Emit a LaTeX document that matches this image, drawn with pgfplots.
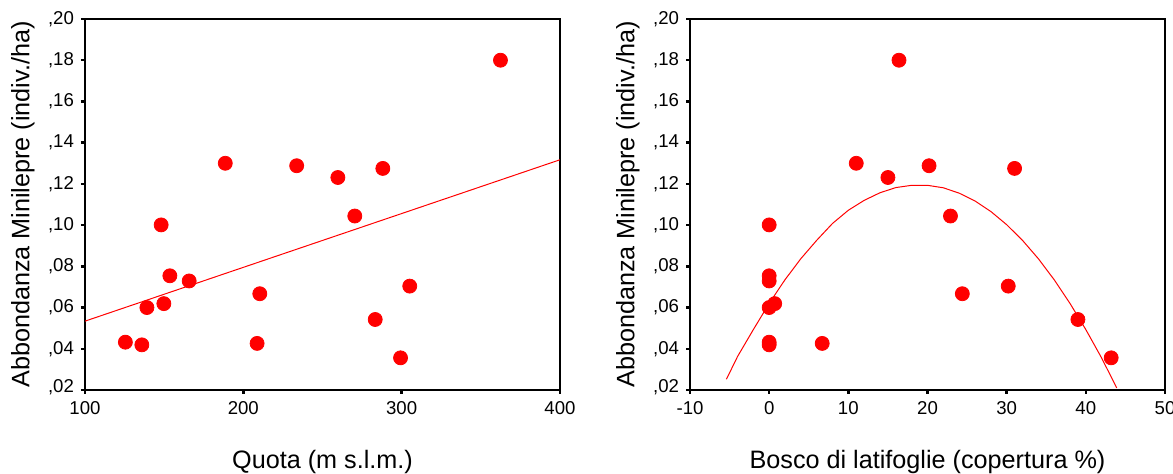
\documentclass[border=0pt]{standalone}
\usepackage{fontspec}
\setmainfont{Liberation Sans}
\usepackage{pgfplots}
\pgfplotsset{compat=1.18}

\definecolor{spssred}{RGB}{255,0,0}

\pgfplotsset{minilepre/.style={
    scale only axis, width=237.5pt, height=185.5pt,
    anchor=south west,
    ymin=0.02, ymax=0.20,
    ytick={0.02,0.04,0.06,0.08,0.10,0.12,0.14,0.16,0.18,0.20},
    yticklabels={\raisebox{4pt}{,02},{,04},{,06},{,08},{,10},{,12},{,14},{,16},{,18},{,20}},
    tick pos=left, tick align=outside, major tick length=2pt,
    every tick/.style={black, line width=1.2pt},
    axis line style={line width=0.8pt},
    /pgf/number format/assume math mode=true,
    tick label style={font=\fontsize{9.3}{11}\selectfont},
    label style={font=\fontsize{12.6}{15}\selectfont},
    ylabel={Abbondanza Minilepre (indiv./ha)},
    ylabel style={at={(axis description cs:-0.131,0.5)}, anchor=center},
    xlabel style={at={(axis description cs:0.5,-0.194)}, anchor=center},
    clip=true,
}}

\begin{document}
\begin{tikzpicture}
\useasboundingbox (0,0) rectangle (586.5pt,237pt);

% Quota
\begin{axis}[minilepre, at={(42.5pt,42pt)},
    xmin=100, xmax=400, xtick={100,200,300,400},
    xlabel={Quota (m s.l.m.)}]
\addplot[spssred, line width=0.5pt, no marks] coordinates {(100,0.0534) (400,0.1317)};
\addplot[only marks, mark=*, mark size=3.5pt, mark options={draw=spssred, fill=spssred}] coordinates {
  (362.4,0.180) (188.6,0.130) (233.7,0.1288) (259.7,0.1231) (288.1,0.1275)
  (270.4,0.1044) (148.1,0.1001) (153.6,0.0754) (165.8,0.0729) (139.1,0.0600)
  (149.8,0.0619) (210.4,0.0667) (305.1,0.0704) (283.3,0.0542) (125.5,0.0432)
  (135.9,0.0419) (208.7,0.0426) (299.3,0.0356)
};
\end{axis}

% Bosco di latifoglie
\begin{axis}[minilepre, at={(345pt,42pt)},
    xmin=-10, xmax=50, xtick={-10,0,10,20,30,40,50},
    xlabel={Bosco di latifoglie (copertura \%)}]
\addplot[spssred, line width=0.5pt, no marks] coordinates {
  (-5.4,0.0252) (-4,0.0362) (-2,0.0493) (0,0.0620) (2,0.0735) (4,0.0837)
  (6,0.0926) (8,0.1008) (10,0.1072) (12,0.1120) (14,0.1157) (16,0.1182)
  (18,0.1193) (20,0.1193) (22,0.1181) (24,0.1155) (26,0.1117) (28,0.1066)
  (30,0.1002) (32,0.0926) (34,0.0837) (36,0.0735) (38,0.0620) (40,0.0493)
  (42,0.0355) (43.9,0.0210)
};
\addplot[only marks, mark=*, mark size=3.5pt, mark options={draw=spssred, fill=spssred}] coordinates {
  (16.4,0.180) (11.0,0.130) (20.2,0.1288) (15.0,0.1231) (31.0,0.1275)
  (22.9,0.1044) (0,0.1001) (0,0.0754) (0,0.0729) (0,0.0600)
  (0.7,0.0619) (24.4,0.0667) (30.2,0.0704) (39.0,0.0542) (0,0.0432)
  (0,0.0419) (6.7,0.0426) (43.2,0.0356)
};
\end{axis}
\end{tikzpicture}
\end{document}
